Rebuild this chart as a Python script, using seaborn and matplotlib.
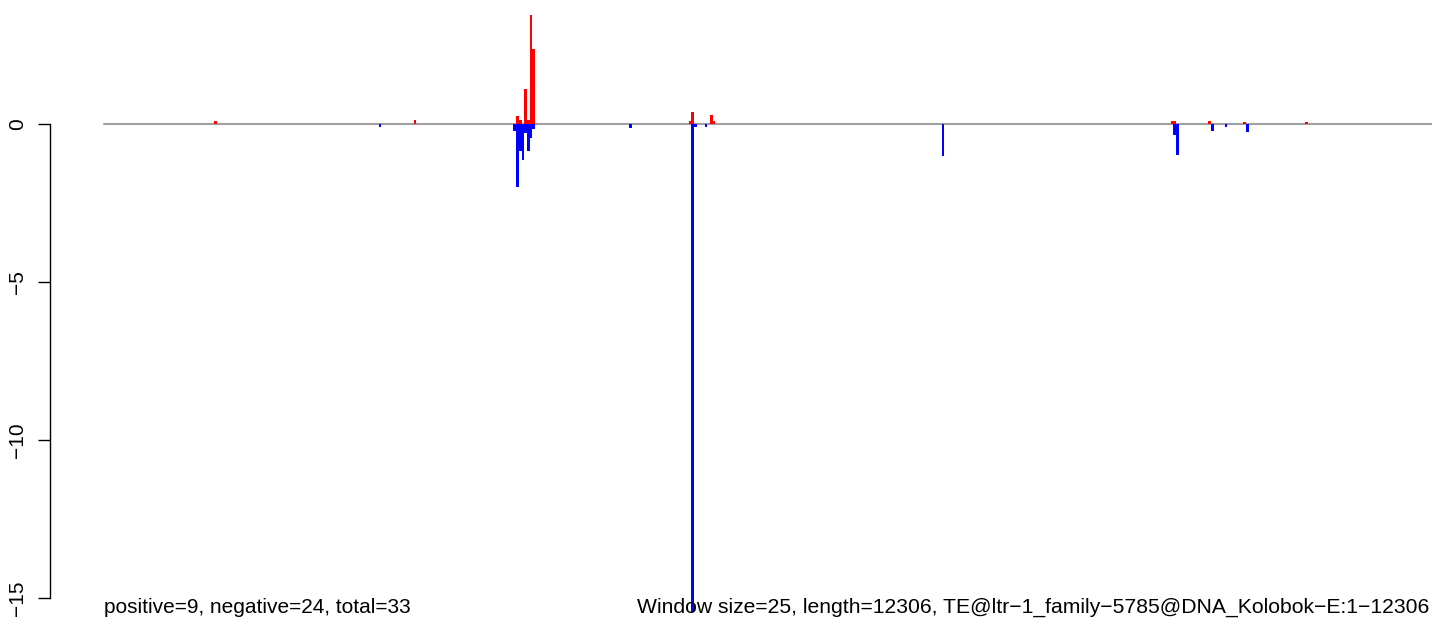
import numpy as np
import pandas as pd
import matplotlib
matplotlib.use('Agg')
import matplotlib.pyplot as plt
import seaborn as sns

# Window settings
window_size = 25
seq_length = 12306
n_windows = int(np.ceil(seq_length / window_size))

# Windows with positive / negative signal (window index, value)
pos_windows = [41, 115, 153, 154, 156, 157, 158, 159, 217, 218, 225, 226, 396, 397, 410, 423, 446]
pos_values = [0.10, 0.13, 0.25, 0.13, 1.11, 0.13, 3.45, 2.37, 0.10, 0.38, 0.28, 0.10, 0.10, 0.10, 0.10, 0.06, 0.06]

neg_windows = [102, 152, 153, 154, 155, 156, 157, 158, 159, 195, 218, 219, 223, 311, 397, 398, 411, 416, 424]
neg_values = [-0.08, -0.22, -1.98, -0.87, -1.14, -0.30, -0.87, -0.45, -0.15, -0.12, -15.45,
              -0.08, -0.08, -1.01, -0.34, -0.98, -0.22, -0.08, -0.25]

y_ticks = [0, -5, -10, -15]
left_label = 'positive=9, negative=24, total=33'
right_label = 'Window size=25, length=12306, TE@ltr\u22121_family\u22125785@DNA_Kolobok\u2212E:1\u221212306'

# Build full table of windows
df = pd.DataFrame({'window': np.arange(n_windows), 'pos': 0.0, 'neg': 0.0})
df.loc[pos_windows, 'pos'] = pos_values
df.loc[neg_windows, 'neg'] = neg_values

sns.set_style('white')
plt.rcParams['font.family'] = ['Liberation Sans', 'DejaVu Sans']
plt.rcParams['text.color'] = 'black'
plt.rcParams['ytick.color'] = 'black'

W, H = 1444, 634
fig = plt.figure(figsize=(W / 100, H / 100), dpi=100)
ax = fig.add_axes([50 / W, (H - 620) / H, (1432 - 50) / W, (620 - 13.4) / H])

# Zero line across all windows
ax.plot([-0.5, n_windows - 0.5], [0, 0], color='#A0A0A0', lw=1.5, zorder=1)

order = list(range(n_windows))
sns.barplot(data=df, x='window', y='pos', order=order, color='#FF0000', saturation=1,
            width=1, linewidth=0, ax=ax, zorder=2)
sns.barplot(data=df, x='window', y='neg', order=order, color='#0000FF', saturation=1,
            width=1, linewidth=0, ax=ax, zorder=2)

px_per_win = (1432 - 104) / n_windows
ax.set_xlim(-0.5 - (104 - 50) / px_per_win, n_windows - 0.5)
ax.set_ylim(-15.7, 3.5)

ax.set_xticks([])
ax.set_xlabel('')
ax.set_ylabel('')
ax.set_yticks(y_ticks)
ax.set_yticklabels([f'{t}'.replace('-', '\u2212') for t in y_ticks], rotation=90, va='center')
ax.tick_params(axis='y', length=8.6, width=1, colors='black', labelsize=15, pad=8, left=True)

for s in ['top', 'right', 'bottom']:
    ax.spines[s].set_visible(False)
ax.spines['left'].set_bounds(-15, 0)
ax.spines['left'].set_color('black')
ax.spines['left'].set_linewidth(1)

fig.text(104 / W, (H - 613) / H, left_label, ha='left', va='baseline', fontsize=15, color='black')
fig.text(1429 / W, (H - 613) / H, right_label, ha='right', va='baseline', fontsize=15.2, color='black')

fig.savefig('out.png', dpi=100)
